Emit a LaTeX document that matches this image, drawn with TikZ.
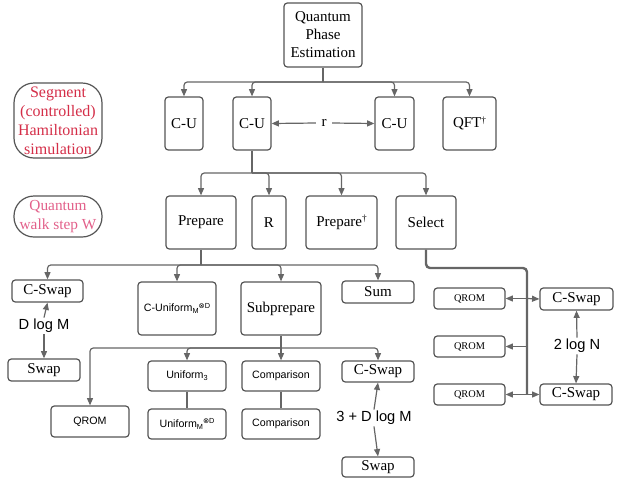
\documentclass[tikz,border=0pt]{standalone}
\usepackage{fontspec}
\setmainfont{Liberation Serif}
\newfontfamily\arialf{Liberation Sans}
\newfontfamily\dejavuf{DejaVu Sans}
\usetikzlibrary{arrows.meta}
\definecolor{lgray}{HTML}{666666}
\definecolor{bgray}{HTML}{555555}
\definecolor{segred}{HTML}{D42E48}
\definecolor{walkpink}{HTML}{E2608A}
\newcommand\mysub[1]{\raisebox{-1.6pt}{\fontsize{5.5}{6}\selectfont #1}}
\newcommand\mysup[1]{\raisebox{2.8pt}{\fontsize{5.5}{6}\selectfont #1}}
\newcommand\otD{\mysup{{\dejavuf ⊗}D}}
\newcommand\dg{\raisebox{3.5pt}{\fontsize{7}{8}\selectfont †}}
\begin{document}
\begin{tikzpicture}[x=0.75pt,y=-0.75pt,
  box/.style={draw=bgray, line width=0.9pt, rounded corners=2.5pt, inner sep=0pt, align=center, font=\fontsize{11.25}{13.5}\selectfont},
  sz/.style 2 args={minimum width=#1*0.75pt, minimum height=#2*0.75pt},
  small/.style={font=\arialf\fontsize{8}{9.6}\selectfont},
  smallserif/.style={font=\fontsize{7.75}{9}\selectfont},
  lbl/.style={font=\arialf\fontsize{11}{13}\selectfont, inner sep=1pt},
  line/.style={draw=lgray, line width=0.9pt, rounded corners=2.5pt},
  arr/.style={line, -{Triangle[length=5.5pt,width=4.5pt]}},
  oval/.style={draw=bgray, line width=0.9pt, align=center, inner sep=0pt}
]
\useasboundingbox (0,0) rectangle (622,480);

% top level
\node[box, sz={78}{64}] (qpe) at (323,35) {Quantum\\Phase\\Estimation};
\node[oval, sz={88}{75}, rounded corners=15pt, text=segred, font=\fontsize{12}{14.2}\selectfont] (seg) at (58,120.5) {Segment\\(controlled)\\Hamiltonian\\simulation};
\node[box, sz={38}{53}] (cu1) at (184,123.5) {C-U};
\node[box, sz={38}{53}] (cu2) at (252,123.5) {C-U};
\node[box, sz={39}{53}] (cu3) at (394.5,123.5) {C-U};
\node[box, sz={53}{53}] (qft) at (469.5,123.5) {QFT\dg};
\node[inner sep=4pt, font=\fontsize{11.25}{13.5}\selectfont] (r) at (324,123) {r};

% second level
\node[oval, sz={88}{41}, rounded corners=15pt, text=walkpink, font=\fontsize{11.5}{14}\selectfont] (qw) at (58,216.5) {Quantum\\walk step W};
\node[box, sz={70}{53}] (prep) at (201,222.5) {Prepare};
\node[box, sz={34}{53}] (rr) at (269,222.5) {R};
\node[box, sz={71}{53}] (prepd) at (341.5,222.5) {Prepare\dg};
\node[box, sz={60}{53}] (sel) at (426,222.5) {Select};

% third level
\node[box, sz={71}{22}] (cswapL) at (47.5,291) {C-Swap};
\node[box, sz={72}{22}] (swapL) at (44,370) {Swap};
\node[lbl] (dlogm) at (44,326) {D log M};
\node[box, sz={78}{53}, small] (cunif) at (177,308.5) {C-Uniform\mysub{M}\otD};
\node[box, sz={80}{53}] (subp) at (281,308.5) {Subprepare};
\node[box, sz={72}{22}] (sum) at (378,292) {Sum};

% fourth level
\node[box, sz={78}{31}, small] (qromL) at (90,421.5) {QROM};
\node[box, sz={78}{30}, small] (unif3) at (187,376) {Uniform\mysub{3}};
\node[box, sz={78}{30}, small] (unifM) at (187,424) {Uniform\mysub{M}\otD};
\node[box, sz={78}{30}, small] (comp1) at (281,376) {Comparison};
\node[box, sz={78}{30}, small] (comp2) at (281,424) {Comparison};
\node[box, sz={72}{21}] (cswapM) at (378,371.5) {C-Swap};
\node[box, sz={72}{20}] (swapM) at (378,467) {Swap};
\node[lbl] (tdlogm) at (374,418) {3 + D log M};

% select branch
\node[box, sz={71}{21}, smallserif] (qr1) at (469.5,298.5) {QROM};
\node[box, sz={71}{21}, smallserif] (qr2) at (469.5,346.5) {QROM};
\node[box, sz={71}{21}, smallserif] (qr3) at (469.5,394.5) {QROM};
\node[box, sz={73}{22}] (csR1) at (576.5,299) {C-Swap};
\node[box, sz={72}{21}] (csR2) at (576,394.5) {C-Swap};
\node[lbl] (tlogn) at (577,346) {2 log N};

% connectors: QPE
\coordinate (j1) at (323,82);
\draw[line] (qpe.south) -- (j1);
\draw[arr] (j1) -| (cu1.north);
\draw[arr] (j1) -| (cu2.north);
\draw[arr] (j1) -| (cu3.north);
\draw[arr] (j1) -| (qft.north);
\draw[arr] (r.west) -- (cu2.east);
\draw[arr] (r.east) -- (cu3.west);

% C-U -> level 2
\coordinate (j2) at (252,173);
\draw[line] (cu2.south) -- (j2);
\draw[arr] (j2) -| (prep.north);
\draw[arr] (j2) -| (rr.north);
\draw[arr] (j2) -| (prepd.north);
\draw[arr] (j2) -| (sel.north);

% Prepare -> level 3
\coordinate (j3) at (201,265);
\draw[line] (prep.south) -- (j3);
\draw[arr] (j3) -| (cswapL.north);
\draw[arr] (j3) -| (cunif.north);
\draw[arr] (j3) -| (subp.north);
\draw[arr] (j3) -| (sum.north);
\draw[arr] (dlogm.north) -- (cswapL.south);
\draw[arr] (dlogm.south) -- (swapL.north);

% Subprepare -> level 4
\coordinate (j4) at (281,348);
\draw[line] (subp.south) -- (j4);
\draw[arr] (j4) -| (qromL.north);
\draw[arr] (j4) -| (unif3.north);
\draw[arr] (j4) -| (comp1.north);
\draw[arr] (j4) -| (cswapM.north);
\draw[line] (unif3.south) -- (unifM.north);
\draw[line] (comp1.south) -- (comp2.north);
\draw[arr] (tdlogm.north) -- (cswapM.south);
\draw[arr] (tdlogm.south) -- (swapM.north);

% Select branch
\coordinate (s1) at (426,268);
\coordinate (s2) at (527,268);
\coordinate (s3) at (527,394.5);
\draw[line, line width=1.8pt, rounded corners=3pt] (sel.south) -- (s1) -- (s2) -- (s3);
\coordinate (t1) at (527,298.5);
\coordinate (t2) at (527,346.5);
\draw[arr] (t1) -- (qr1.east);
\draw[arr] (t2) -- (qr2.east);
\draw[arr] (s3) -- (qr3.east);
\draw[arr] (t1) -- (csR1.west);
\draw[arr] (s3) -- (csR2.west);
\draw[arr] (tlogn.north) -- (csR1.south);
\draw[arr] (tlogn.south) -- (csR2.north);
\end{tikzpicture}
\end{document}
